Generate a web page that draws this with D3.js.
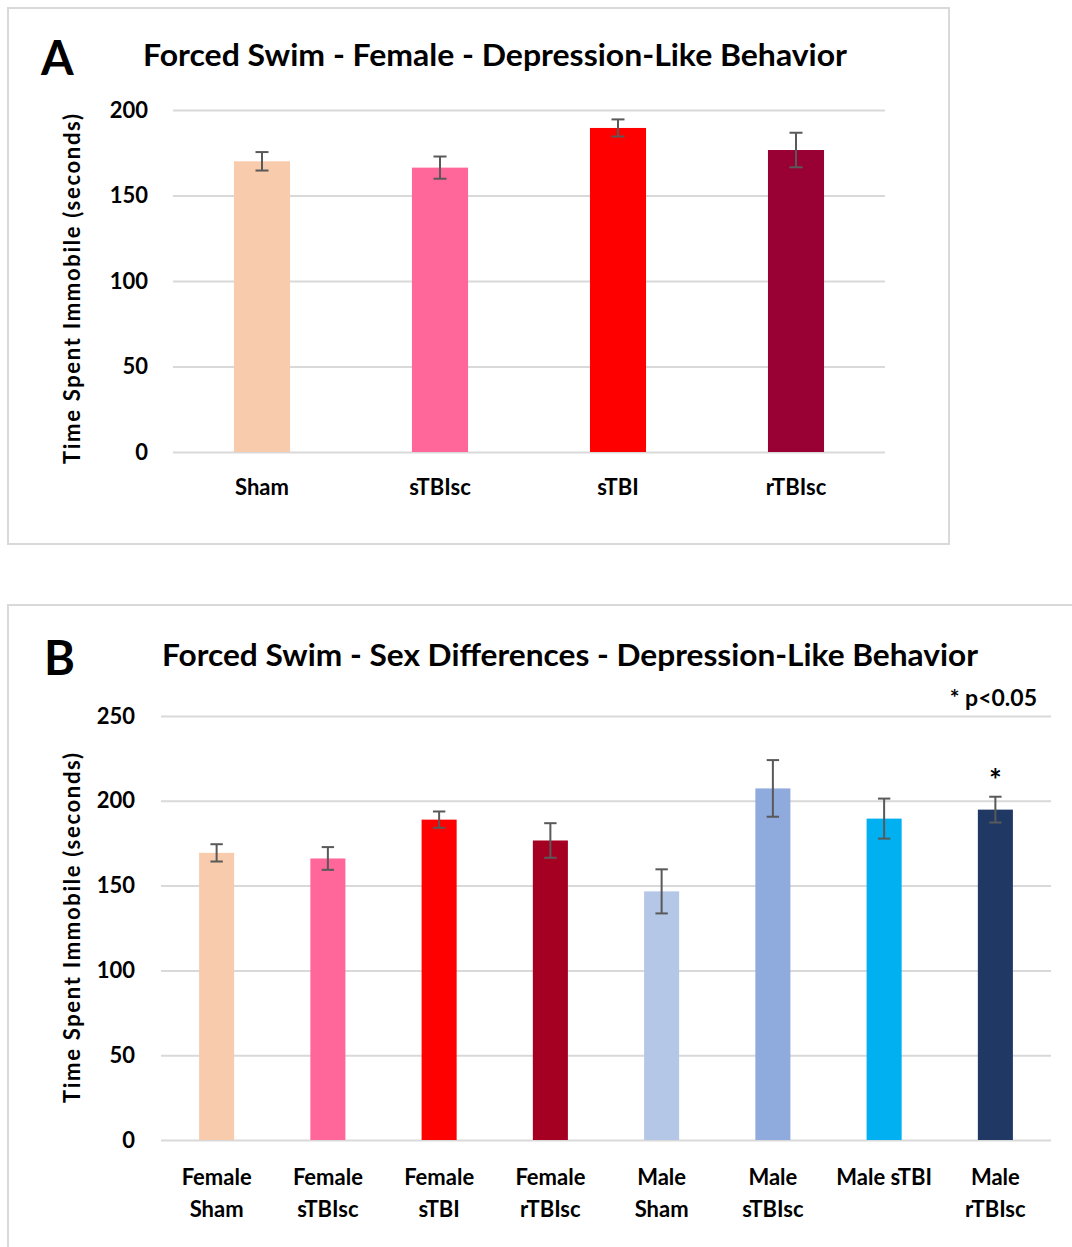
<!DOCTYPE html>
<html lang="en">
<head>
  <meta charset="UTF-8" />
  <title>Forced Swim - Depression-Like Behavior</title>
  <style>
    body { margin: 0; background: #fff; }
    svg text { font-family: Lato, "Open Sans", sans-serif; font-weight: bold; fill: #000; }
    .grid line { stroke: #d9d9d9; stroke-width: 2; }
    .grid path { display: none; }
    .xaxis path, .xaxis line { display: none; }
  </style>
</head>
<body>
  <div id="chart"></div>
  <script src="https://d3js.org/d3.v7.min.js"></script>
  <script>
    // Panel A data (female groups)
    var groupsA = ["Sham", "sTBIsc", "sTBI", "rTBIsc"];
    var meansA = [170, 166.3, 189.5, 176.6];
    var errA = [5.4, 6.5, 5, 10.1];
    var colorsA = ["#f8cbad", "#ff6699", "#ff0000", "#990033"];
    var ticksA = [0, 50, 100, 150, 200];

    // Panel B data (female vs male)
    var groupsB = ["Female Sham", "Female sTBIsc", "Female sTBI", "Female rTBIsc",
                   "Male Sham", "Male sTBIsc", "Male sTBI", "Male rTBIsc"];
    var labelsB = [["Female", "Sham"], ["Female", "sTBIsc"], ["Female", "sTBI"], ["Female", "rTBIsc"],
                   ["Male", "Sham"], ["Male", "sTBIsc"], ["Male sTBI"], ["Male", "rTBIsc"]];
    var meansB = [169.3, 166, 188.9, 176.6, 146.6, 207.3, 189.5, 194.8];
    var errB = [5.1, 6.7, 4.8, 10.2, 13, 16.7, 11.8, 7.6];
    var colorsB = ["#f8cbad", "#ff6699", "#ff0000", "#a50021",
                   "#b4c7e7", "#8faadc", "#00b0f0", "#203864"];
    var sigB = ["", "", "", "", "", "", "", "*"];
    var ticksB = [0, 50, 100, 150, 200, 250];

    var svg = d3.select("#chart")
      .append("svg")
      .attr("width", 1072)
      .attr("height", 1247);

    // panel frames
    svg.append("rect").attr("x", 8).attr("y", 8).attr("width", 941).attr("height", 536)
      .attr("fill", "none").attr("stroke", "#d9d9d9").attr("stroke-width", 2);
    svg.append("rect").attr("x", 8).attr("y", 605).attr("width", 1100).attr("height", 700)
      .attr("fill", "none").attr("stroke", "#d9d9d9").attr("stroke-width", 2);

    function drawPanel(opt) {
      var g = svg.append("g").attr("transform", "translate(" + opt.left + "," + opt.top + ")");
      var w = opt.width, h = opt.height;

      var x = d3.scaleBand().domain(opt.groups).range([0, w])
        .paddingInner(0.685).paddingOuter(0.3425);
      var y = d3.scaleLinear().domain([0, d3.max(opt.ticks)]).range([h, 0]);

      // gridlines + y tick labels
      var ga = g.append("g").attr("class", "grid")
        .call(d3.axisLeft(y).tickValues(opt.ticks).tickSize(-w).tickPadding(opt.tickPad));
      ga.selectAll("line").attr("x1", 0).attr("x2", w);
      ga.selectAll("text").attr("x", -opt.tickPad).style("font-size", "22px");

      // bars
      g.selectAll(".bar").data(opt.groups).enter().append("rect")
        .attr("x", function(d) { return x(d); })
        .attr("y", function(d, i) { return y(opt.means[i]); })
        .attr("width", x.bandwidth())
        .attr("height", function(d, i) { return h - y(opt.means[i]); })
        .attr("fill", function(d, i) { return opt.colors[i]; });

      // error bars
      var eb = g.selectAll(".err").data(opt.groups).enter().append("g")
        .attr("stroke", "#595959").attr("stroke-width", 2);
      eb.append("line")
        .attr("x1", function(d) { return x(d) + x.bandwidth() / 2; })
        .attr("x2", function(d) { return x(d) + x.bandwidth() / 2; })
        .attr("y1", function(d, i) { return y(opt.means[i] + opt.err[i]); })
        .attr("y2", function(d, i) { return y(opt.means[i] - opt.err[i]); });
      [1, -1].forEach(function(s) {
        eb.append("line")
          .attr("x1", function(d) { return x(d) + x.bandwidth() / 2 - opt.cap; })
          .attr("x2", function(d) { return x(d) + x.bandwidth() / 2 + opt.cap; })
          .attr("y1", function(d, i) { return y(opt.means[i] + s * opt.err[i]); })
          .attr("y2", function(d, i) { return y(opt.means[i] + s * opt.err[i]); });
      });

      // x labels
      var xa = g.append("g").attr("class", "xaxis").attr("transform", "translate(0," + h + ")")
        .call(d3.axisBottom(x).tickSize(0).tickFormat(""));
      xa.selectAll(".tick").each(function(d, i) {
        var lines = opt.labels[i];
        var t = d3.select(this).append("text").attr("text-anchor", "middle")
          .style("font-size", "22px");
        lines.forEach(function(l, k) {
          t.append("tspan").attr("x", 0).attr("y", opt.labelY + k * 32).text(l);
        });
      });

      // y axis title (Calibri in the original is wider, so stretch spacing)
      g.append("text")
        .attr("transform", "translate(" + (opt.yTitleX - opt.left) + "," + (opt.yTitleY - opt.top) + ") rotate(-90)")
        .attr("text-anchor", "middle").attr("dy", "0.35em")
        .attr("textLength", 350).attr("lengthAdjust", "spacing")
        .style("font-size", "22px")
        .text("Time Spent Immobile (seconds)");

      // title + panel letter
      svg.append("text").attr("x", opt.titleX).attr("y", opt.titleY)
        .attr("text-anchor", "middle").style("font-size", "31px")
        .attr("textLength", opt.titleW).attr("lengthAdjust", "spacingAndGlyphs")
        .text(opt.title);
      svg.append("text").attr("x", opt.letterX).attr("y", opt.titleY + 9)
        .style("font-size", "47px").text(opt.letter);

      if (opt.sig) {
        g.selectAll(".sig").data(opt.groups).enter().append("text")
          .attr("x", function(d) { return x(d) + x.bandwidth() / 2; })
          .attr("y", function(d, i) { return y(opt.means[i] + opt.err[i]) - 6; })
          .attr("text-anchor", "middle").style("font-size", "30px")
          .text(function(d, i) { return opt.sig[i]; });
      }
      return g;
    }

    drawPanel({
      groups: groupsA, labels: groupsA.map(function(d) { return [d]; }),
      means: meansA, err: errA, colors: colorsA, ticks: ticksA,
      left: 173, top: 110, width: 712, height: 342, tickPad: 25, cap: 6.5,
      labelY: 43, yTitleX: 72, yTitleY: 289,
      title: "Forced Swim - Female - Depression-Like Behavior", titleX: 495, titleY: 66, titleW: 704,
      letter: "A", letterX: 41
    });

    drawPanel({
      groups: groupsB, labels: labelsB,
      means: meansB, err: errB, colors: colorsB, ticks: ticksB, sig: sigB,
      left: 161, top: 716, width: 890, height: 424, tickPad: 26, cap: 6.2,
      labelY: 45, yTitleX: 72, yTitleY: 928,
      title: "Forced Swim - Sex Differences - Depression-Like Behavior", titleX: 570, titleY: 666, titleW: 816,
      letter: "B", letterX: 44
    });

    svg.append("text").attr("x", 1037).attr("y", 706).attr("text-anchor", "end")
      .style("font-size", "23px").text("* p<0.05");
  </script>
</body>
</html>
